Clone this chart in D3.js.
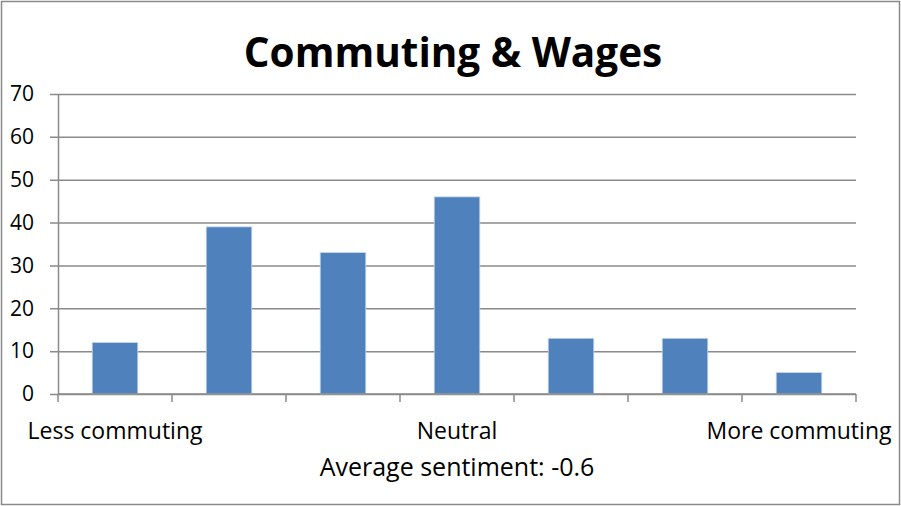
<!DOCTYPE html>
<html>
<head>
<meta charset="utf-8">
<script src="https://cdn.jsdelivr.net/npm/d3@7"></script>
<style>
  html, body { margin: 0; padding: 0; background: #fff; }
  svg { display: block; }
</style>
</head>
<body>
<svg id="chart" width="901" height="506"></svg>
<script>
// Sentiment buckets from "less commuting" to "more commuting"
const categories = ["1", "2", "3", "4", "5", "6", "7"];
const categoryLabels = ["Less commuting", "", "", "Neutral", "", "", "More commuting"];
const counts = [12, 39, 33, 46, 13, 13, 5];
const yTicks = [0, 10, 20, 30, 40, 50, 60, 70];
const titleText = "Commuting & Wages";
const axisTitle = "Average sentiment: -0.6";

const svg = d3.select("#chart");
const W = 901, H = 506;
const margin = { left: 58, right: 45, top: 94, bottom: 112 };
const font = "'Open Sans', 'Noto Sans', sans-serif";

// Outer chart frame
svg.append("rect")
  .attr("x", 1.5).attr("y", 1.5)
  .attr("width", W - 3).attr("height", H - 3)
  .attr("fill", "#fff").attr("stroke", "#8a8a8a").attr("stroke-width", 1.5);

const x = d3.scaleBand()
  .domain(categories)
  .range([margin.left, W - margin.right])
  .paddingInner(0.6)
  .paddingOuter(0.3);

const y = d3.scaleLinear()
  .domain([0, 70])
  .range([H - margin.bottom, margin.top]);

// Horizontal gridlines with short outward ticks
const yAxis = d3.axisLeft(y)
  .tickValues(yTicks)
  .tickSize(-(W - margin.right - margin.left))
  .tickSizeOuter(0)
  .tickPadding(24)
  .tickFormat(d3.format("d"));

const gy = svg.append("g")
  .attr("transform", `translate(${margin.left},0)`)
  .call(yAxis);
gy.select(".domain").attr("stroke", "#8a8a8a").attr("stroke-width", 1.5);
gy.selectAll(".tick line")
  .attr("x1", -8)
  .attr("stroke", "#8a8a8a").attr("stroke-width", 1.5);
gy.selectAll(".tick text")
  .attr("font-family", font).attr("font-size", 21).attr("fill", "#000");

// Bars
svg.append("g").selectAll("rect")
  .data(counts)
  .join("rect")
  .attr("x", (d, i) => x(categories[i]))
  .attr("y", d => y(d))
  .attr("width", x.bandwidth())
  .attr("height", d => y(0) - y(d))
  .attr("fill", "#4f81bd")
  .attr("stroke", "#c9d7ea").attr("stroke-width", 0.8);

// Category axis line and boundary ticks between buckets
const step = x.step();
const boundaries = d3.range(categories.length + 1).map(i => margin.left + i * step);
const gx = svg.append("g");
gx.append("line")
  .attr("x1", margin.left).attr("x2", W - margin.right)
  .attr("y1", y(0)).attr("y2", y(0))
  .attr("stroke", "#8a8a8a").attr("stroke-width", 1.5);
gx.selectAll("line.tk")
  .data(boundaries)
  .join("line")
  .attr("class", "tk")
  .attr("x1", d => d).attr("x2", d => d)
  .attr("y1", y(0)).attr("y2", y(0) + 8)
  .attr("stroke", "#8a8a8a").attr("stroke-width", 1.5);

gx.selectAll("text")
  .data(categoryLabels)
  .join("text")
  .attr("x", (d, i) => x(categories[i]) + x.bandwidth() / 2)
  .attr("y", 439)
  .attr("text-anchor", "middle")
  .attr("font-family", font).attr("font-size", 23)
  .attr("fill", "#000")
  .text(d => d);

// Axis title
svg.append("text")
  .attr("x", x(categories[3]) + x.bandwidth() / 2)
  .attr("y", 476)
  .attr("text-anchor", "middle")
  .attr("font-family", font).attr("font-size", 25)
  .attr("fill", "#000")
  .text(axisTitle);

// Chart title
svg.append("text")
  .attr("x", 453)
  .attr("y", 67)
  .attr("text-anchor", "middle")
  .attr("font-family", font).attr("font-weight", "bold").attr("font-size", 40.5)
  .attr("fill", "#000")
  .text(titleText);
</script>
</body>
</html>
